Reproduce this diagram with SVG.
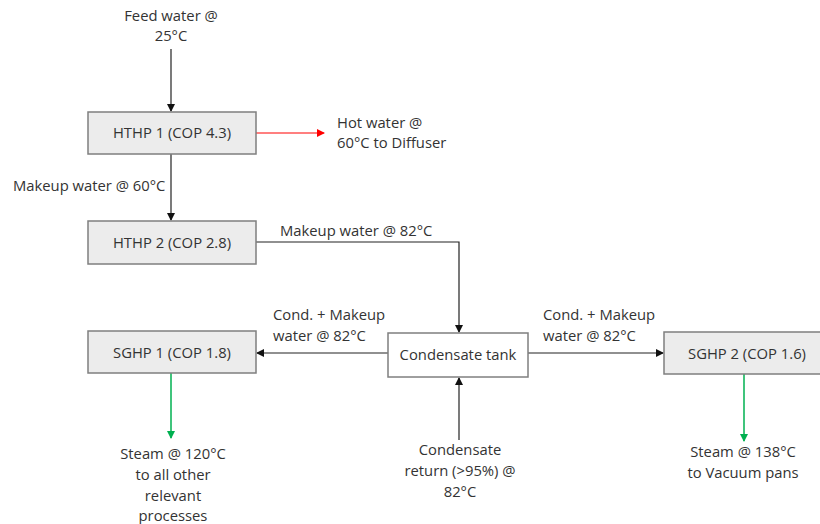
<svg xmlns="http://www.w3.org/2000/svg" width="820" height="524" viewBox="0 0 820 524">
<style>
text{font-family:"Open Sans","Liberation Sans",Arial,sans-serif;font-size:14.8px;fill:#333}
.c{text-anchor:middle}
.box{fill:#ececec;stroke:#7f7f7f;stroke-width:1.5}
.tank{fill:#fff;stroke:#7f7f7f;stroke-width:1.5}
.k{stroke:#222;stroke-width:1.2;fill:none}
.r{stroke:#ff0000;stroke-width:1.2;fill:none}
.g{stroke:#00b050;stroke-width:1.5;fill:none}
</style>
<defs>
<marker id="ak" markerWidth="8" markerHeight="8" refX="7" refY="4" orient="auto" markerUnits="userSpaceOnUse"><path d="M0,0 L8,4 L0,8 Z" fill="#111"/></marker>
<marker id="ar" markerWidth="8" markerHeight="8" refX="7" refY="4" orient="auto" markerUnits="userSpaceOnUse"><path d="M0,0 L8,4 L0,8 Z" fill="#ff0000"/></marker>
<marker id="ag" markerWidth="8" markerHeight="8" refX="7" refY="4" orient="auto" markerUnits="userSpaceOnUse"><path d="M0,0 L8,4 L0,8 Z" fill="#00b050"/></marker>
</defs>
<rect width="820" height="524" fill="#fff"/>
<g id="connectors">
<line class="k" x1="171" y1="49" x2="171" y2="111" marker-end="url(#ak)"/>
<line class="r" x1="256" y1="133" x2="324" y2="133" marker-end="url(#ar)"/>
<line class="k" x1="171" y1="154" x2="171" y2="220" marker-end="url(#ak)"/>
<polyline class="k" points="256,242 459,242 459,332" marker-end="url(#ak)"/>
<line class="k" x1="388" y1="353" x2="257" y2="353" marker-end="url(#ak)"/>
<line class="k" x1="528" y1="353" x2="663" y2="353" marker-end="url(#ak)"/>
<line class="k" x1="459" y1="440" x2="459" y2="378" marker-end="url(#ak)"/>
<line class="g" x1="171" y1="373" x2="171" y2="438" marker-end="url(#ag)"/>
<line class="g" x1="744" y1="374" x2="744" y2="441" marker-end="url(#ag)"/>
</g>
<g id="feed"><text class="c" x="171" y="21">Feed water @</text><text class="c" x="171" y="41">25°C</text></g>
<g id="hthp1"><rect class="box" x="88" y="112" width="168" height="42"/><text class="c" x="172" y="138">HTHP 1 (COP 4.3)</text></g>
<g id="hotwater"><text x="337" y="128">Hot water @</text><text x="337" y="148">60°C to Diffuser</text></g>
<g id="lbl-makeup60"><text x="13" y="191">Makeup water @ 60°C</text></g>
<g id="hthp2"><rect class="box" x="88" y="221" width="168" height="43"/><text class="c" x="172" y="248">HTHP 2 (COP 2.8)</text></g>
<g id="lbl-makeup82"><text x="280" y="236">Makeup water @ 82°C</text></g>
<g id="tank"><rect class="tank" x="388" y="333" width="140" height="44"/><text class="c" x="458" y="360">Condensate tank</text></g>
<g id="sghp1"><rect class="box" x="88" y="331" width="168" height="42"/><text class="c" x="172" y="358">SGHP 1 (COP 1.8)</text></g>
<g id="sghp2"><rect class="box" x="664" y="332" width="168" height="42"/><text class="c" x="747" y="359">SGHP 2 (COP 1.6)</text></g>
<g id="lbl-left"><text x="273" y="320">Cond. + Makeup</text><text x="273" y="341">water @ 82°C</text></g>
<g id="lbl-right"><text x="543" y="320">Cond. + Makeup</text><text x="543" y="341">water @ 82°C</text></g>
<g id="steam120"><text class="c" x="173" y="459">Steam @ 120°C</text><text class="c" x="173" y="480">to all other</text><text class="c" x="173" y="501">relevant</text><text class="c" x="173" y="521">processes</text></g>
<g id="return"><text class="c" x="460" y="455">Condensate</text><text class="c" x="460" y="476">return (&gt;95%) @</text><text class="c" x="460" y="497">82°C</text></g>
<g id="steam138"><text class="c" x="743" y="457">Steam @ 138°C</text><text class="c" x="743" y="478">to Vacuum pans</text></g>
</svg>
